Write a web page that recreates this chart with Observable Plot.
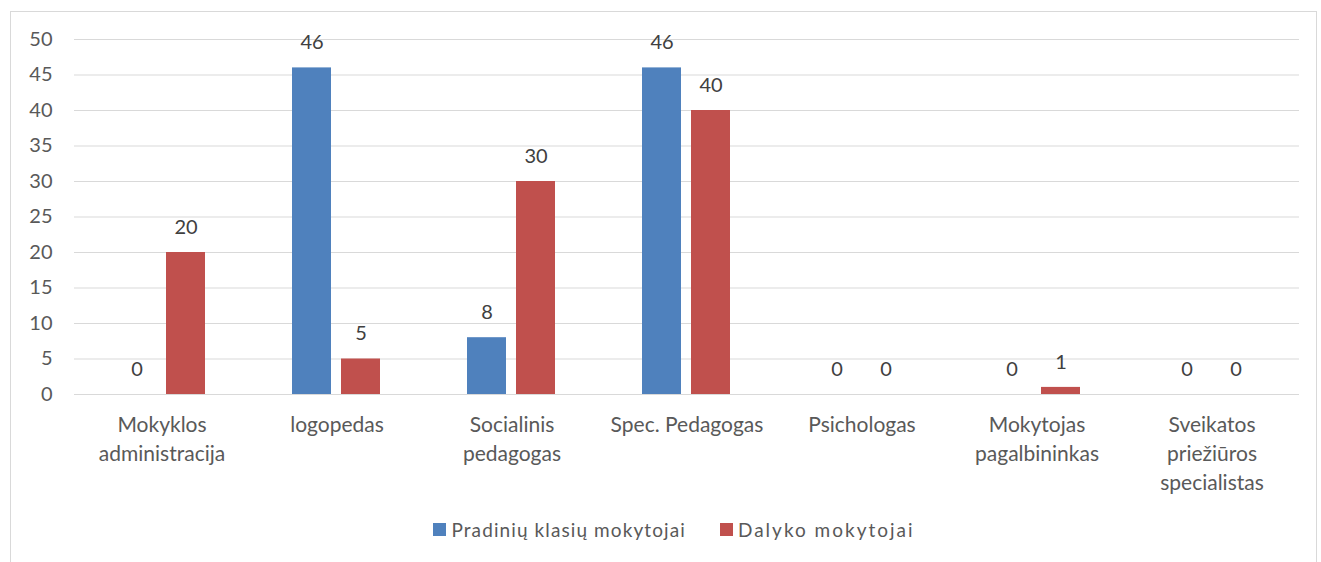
<!DOCTYPE html>
<html>
<head>
<meta charset="utf-8">
<script src="https://cdn.jsdelivr.net/npm/d3@7"></script>
<script src="https://cdn.jsdelivr.net/npm/@observablehq/plot@0.6"></script>
<style>
  html, body { margin: 0; padding: 0; background: #fff; }
  #wrap { position: relative; width: 1321px; height: 562px; overflow: hidden; font-family: Lato, "Open Sans", sans-serif; }
  #frame { position: absolute; left: 10px; top: 11px; width: 1307px; height: 560px; border: 1px solid #d9d9d9; box-sizing: border-box; }
  #chart { position: absolute; left: 0; top: 0; }
  #legend { position: absolute; left: 0; top: 518px; width: 1348px; display: flex; justify-content: center; gap: 34px; font-size: 19px; letter-spacing: 1.1px; color: #595959; }
  #legend .item { display: flex; align-items: center; gap: 5px; }
  #legend .item + .item span:last-child { letter-spacing: 2px; }
  #legend .sw { width: 13px; height: 13px; display: inline-block; }
</style>
</head>
<body>
<div id="wrap">
  <div id="frame"></div>
  <div id="chart"></div>
  <div id="legend"></div>
</div>
<script>
const categories = ["Mokyklos administracija", "logopedas", "Socialinis pedagogas", "Spec. Pedagogas", "Psichologas", "Mokytojas pagalbininkas", "Sveikatos priežiūros specialistas"];
const categoryLabels = ["Mokyklos\nadministracija", "logopedas", "Socialinis\npedagogas", "Spec. Pedagogas", "Psichologas", "Mokytojas\npagalbininkas", "Sveikatos\npriežiūros\nspecialistas"];
const series = ["Pradinių klasių mokytojai", "Dalyko mokytojai"];
const pradiniuValues = [0, 46, 8, 46, 0, 0, 0];
const dalykoValues = [20, 5, 30, 40, 0, 1, 0];
const colors = ["#4f81bd", "#c0504d"];
const yTicks = [0, 5, 10, 15, 20, 25, 30, 35, 40, 45, 50];

const rows = [];
categories.forEach((c, i) => {
  rows.push({cat: c, series: series[0], value: pradiniuValues[i]});
  rows.push({cat: c, series: series[1], value: dalykoValues[i]});
});

const chart = Plot.plot({
  width: 1321,
  height: 500,
  marginTop: 39,
  marginBottom: 106,
  marginLeft: 72,
  marginRight: 21,
  style: {fontFamily: "Lato, 'Open Sans', sans-serif", color: "#595959", background: "transparent"},
  fx: {domain: categories, padding: 0, label: null},
  x: {domain: series, paddingInner: 0.2, paddingOuter: 0.854, axis: null},
  y: {domain: [0, 50], label: null},
  color: {domain: series, range: colors},
  marks: [
    Plot.gridY(yTicks, {stroke: "#d9d9d9", strokeOpacity: 1}),
    Plot.axisY(yTicks, {tickSize: 0, tickPadding: 22, fontSize: 20, label: null}),
    Plot.axisFx({anchor: "bottom", tickSize: 0, tickPadding: 17, fontSize: 21, lineHeight: 1.38, label: null,
      tickFormat: (d) => categoryLabels[categories.indexOf(d)]}),
    Plot.barY(rows, {fx: "cat", x: "series", y: "value", fill: "series"}),
    Plot.text(rows, {fx: "cat", x: "series", y: "value", text: (d) => String(d.value), dy: -25, fontSize: 20, fill: "#404040"})
  ]
});
document.getElementById("chart").appendChild(chart);

const legend = document.getElementById("legend");
series.forEach((s, i) => {
  const item = document.createElement("div");
  item.className = "item";
  const sw = document.createElement("span");
  sw.className = "sw";
  sw.style.background = colors[i];
  const t = document.createElement("span");
  t.textContent = s;
  item.appendChild(sw);
  item.appendChild(t);
  legend.appendChild(item);
});
</script>
</body>
</html>
